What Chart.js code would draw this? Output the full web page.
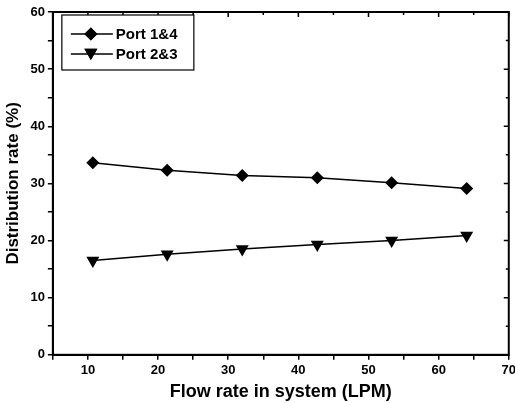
<!DOCTYPE html>
<html>
<head>
<meta charset="utf-8">
<script src="https://cdn.jsdelivr.net/npm/chart.js@4.4.1/dist/chart.umd.min.js"></script>
<style>
  html, body { margin: 0; padding: 0; background: #fff; overflow: hidden; }
  #wrap { width: 515px; height: 403px; overflow: hidden; }
</style>
</head>
<body>
<div id="wrap"><canvas id="myChart" width="519" height="403"></canvas></div>
<script>
// flow rate in system (LPM)
var flowRates = [10.7, 21.3, 32, 42.7, 53.3, 64];
var port14 = [33.6, 32.3, 31.4, 31.0, 30.1, 29.1];
var port23 = [16.5, 17.6, 18.5, 19.3, 20.0, 20.9];
var seriesNames = ['Port 1&4', 'Port 2&3'];

var FONT = "'Liberation Sans', Arial, sans-serif";

function toPoints(xs, ys) {
  return xs.map(function (x, i) { return { x: x, y: ys[i] }; });
}

// box round the plot + inward ticks on top and right + legend box
var framePlugin = {
  id: 'frame',
  afterDraw: function (chart) {
    var ctx = chart.ctx;
    var a = chart.chartArea;
    var xs = chart.scales.x, ys = chart.scales.y;
    ctx.save();
    ctx.strokeStyle = '#000';
    ctx.lineWidth = 2;
    ctx.strokeRect(a.left, a.top, a.right - a.left, a.bottom - a.top);

    ctx.lineWidth = 1.5;
    ctx.beginPath();
    for (var v = 5; v <= 70; v += 5) {
      var px = xs.getPixelForValue(v);
      var len = v % 10 === 0 ? 5 : 3;
      ctx.moveTo(px, a.top);
      ctx.lineTo(px, a.top + len);
    }
    for (var w = 0; w <= 60; w += 5) {
      var py = ys.getPixelForValue(w);
      var l2 = w % 10 === 0 ? 5 : 3;
      ctx.moveTo(a.right, py);
      ctx.lineTo(a.right - l2, py);
    }
    ctx.stroke();

    // legend
    var bx = a.left + 9, by = a.top + 3, bw = 132, bh = 55;
    ctx.fillStyle = '#fff';
    ctx.fillRect(bx, by, bw, bh);
    ctx.lineWidth = 1.2;
    ctx.strokeRect(bx, by, bw, bh);
    chart.data.datasets.forEach(function (ds, i) {
      var cy = by + 19 + i * 20;
      ctx.lineWidth = 1.5;
      ctx.strokeStyle = '#000';
      ctx.beginPath();
      ctx.moveTo(bx + 9, cy);
      ctx.lineTo(bx + 51, cy);
      ctx.stroke();
      ctx.fillStyle = '#000';
      Chart.helpers.drawPoint(ctx, {
        pointStyle: ds.pointStyle,
        rotation: ds.pointRotation || 0,
        radius: ds.pointRadius,
        borderWidth: 0
      }, bx + 29, cy + (ds.pointStyle === 'triangle' ? -1.5 : 0));
      ctx.fill();
      ctx.font = 'bold 15px ' + FONT;
      ctx.textBaseline = 'middle';
      ctx.textAlign = 'left';
      ctx.fillText(ds.label, bx + 54, cy + 1);
    });
    ctx.restore();
  }
};

var ctx = document.getElementById('myChart');
new Chart(ctx, {
  type: 'line',
  data: {
    datasets: [{
      label: seriesNames[0],
      data: toPoints(flowRates, port14),
      borderColor: '#000',
      backgroundColor: '#000',
      borderWidth: 1.5,
      pointStyle: 'rectRot',
      pointRadius: 6.5,
      pointBorderWidth: 0
    }, {
      label: seriesNames[1],
      data: toPoints(flowRates, port23),
      borderColor: '#000',
      backgroundColor: '#000',
      borderWidth: 1.5,
      pointStyle: 'triangle',
      pointRotation: 180,
      pointRadius: 7.5,
      pointBorderWidth: 0
    }]
  },
  options: {
    responsive: false,
    animation: false,
    layout: { padding: { top: 12, right: 0, left: 3, bottom: 0 } },
    plugins: {
      legend: { display: false },
      tooltip: { enabled: false }
    },
    scales: {
      x: {
        type: 'linear',
        min: 5,
        max: 70,
        border: { display: true, color: '#000', width: 2 },
        grid: { display: true, drawOnChartArea: false, drawTicks: true, tickLength: 5, color: '#000', lineWidth: 1.5 },
        ticks: {
          stepSize: 5,
          autoSkip: false,
          maxRotation: 0,
          color: '#000',
          padding: 3,
          font: { family: FONT, size: 13, weight: 'bold' },
          callback: function (v) { return v % 10 === 0 && v !== 0 ? v : ''; }
        },
        title: {
          display: true,
          text: 'Flow rate in system (LPM)',
          color: '#000',
          padding: { top: 0, bottom: 0 },
          font: { family: FONT, size: 18, weight: 'bold' }
        }
      },
      y: {
        type: 'linear',
        min: 0,
        max: 60,
        border: { display: true, color: '#000', width: 2 },
        grid: { display: true, drawOnChartArea: false, drawTicks: true, tickLength: 5, color: '#000', lineWidth: 1.5 },
        ticks: {
          stepSize: 5,
          autoSkip: false,
          color: '#000',
          padding: 3,
          font: { family: FONT, size: 13, weight: 'bold' },
          callback: function (v) { return v % 10 === 0 ? v : ''; }
        },
        title: {
          display: true,
          text: 'Distribution rate (%)',
          color: '#000',
          padding: { top: 0, bottom: 4 },
          font: { family: FONT, size: 17, weight: 'bold' }
        }
      }
    }
  },
  plugins: [framePlugin]
});
</script>
</body>
</html>
